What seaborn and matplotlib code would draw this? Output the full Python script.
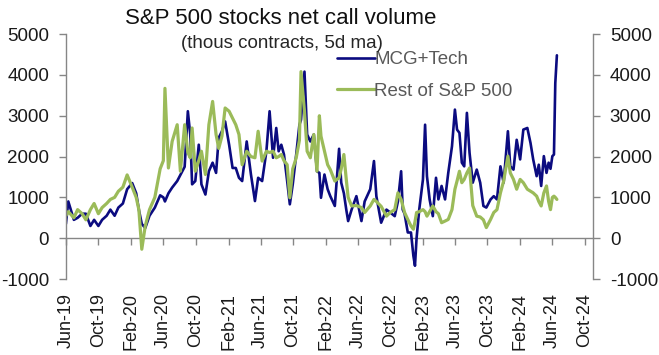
import matplotlib
matplotlib.use("Agg")
import matplotlib.pyplot as plt
import matplotlib.dates as mdates
import seaborn as sns
import pandas as pd

# Estilo base limpo; a fonte vem depois do set_theme
sns.set_theme(style="white")
plt.rcParams['font.family'] = ['Liberation Sans', 'DejaVu Sans']
plt.rcParams['axes.unicode_minus'] = False

# Valores (mil contratos, média 5d), por ano
datas_2019 = ["2019-06-01", "2019-06-10", "2019-07-01", "2019-07-15", "2019-08-01",
              "2019-08-15", "2019-09-01", "2019-09-15", "2019-10-01", "2019-10-15",
              "2019-11-01", "2019-11-15", "2019-12-01", "2019-12-15"]
mcg_2019 = [350, 900, 450, 500, 600,
            600, 300, 450, 300, 450,
            550, 700, 550, 750]
resto_2019 = [550, 650, 500, 700, 600,
              450, 700, 850, 600, 750,
              850, 950, 1000, 1150]

datas_2020 = ["2020-01-01", "2020-01-17", "2020-02-05", "2020-02-20", "2020-03-01",
              "2020-03-12", "2020-03-25", "2020-04-10", "2020-04-30", "2020-05-20",
              "2020-06-01", "2020-06-07", "2020-06-20", "2020-07-04", "2020-07-23",
              "2020-08-04", "2020-08-20", "2020-09-01", "2020-09-10", "2020-09-17",
              "2020-09-29", "2020-10-12", "2020-10-22", "2020-11-06", "2020-11-19",
              "2020-12-03", "2020-12-16", "2020-12-26"]
mcg_2020 = [850, 1200, 1350, 1100, 700,
            350, 250, 550, 750, 1050,
            1000, 900, 1100, 1240, 1400,
            1550, 1750, 3110, 2540, 1320,
            1400, 2290, 1320, 1070, 1640,
            1850, 1600, 2460]
resto_2020 = [1250, 1550, 1250, 1000, 700,
              -270, 300, 700, 1000, 1700,
              1900, 3670, 1720, 2370, 2780,
              1640, 2780, 2100, 1970, 2700,
              1640, 1900, 2130, 1560, 2780,
              3350, 2540, 2200]

datas_2021 = ["2021-01-07", "2021-01-19", "2021-02-03", "2021-02-16", "2021-02-28",
              "2021-03-12", "2021-03-24", "2021-04-10", "2021-04-26", "2021-05-11",
              "2021-05-23", "2021-06-07", "2021-06-23", "2021-07-05", "2021-07-18",
              "2021-07-30", "2021-08-08", "2021-08-18", "2021-08-28", "2021-09-09",
              "2021-09-19", "2021-09-30", "2021-10-13", "2021-10-25", "2021-10-31",
              "2021-11-13", "2021-11-23", "2021-12-05", "2021-12-18", "2021-12-30"]
mcg_2021 = [2620, 2860, 2290, 1720, 1720,
            1480, 1400, 2370, 1560, 910,
            1480, 1400, 2130, 3110, 1970,
            2700, 2130, 2290, 2050, 1400,
            830, 1320, 2050, 2780, 2900,
            4080, 2540, 2370, 2540, 1640]
resto_2021 = [2500, 3190, 3110, 2940, 2780,
              2540, 1800, 2130, 2000, 1970,
              2620, 1890, 2130, 2100, 2130,
              1970, 2000, 2050, 1900, 1800,
              990, 1700, 1970, 2400, 4080,
              3110, 2130, 1970, 2540, 1640]

datas_2022 = ["2022-01-08", "2022-01-14", "2022-01-27", "2022-02-08", "2022-02-18",
              "2022-03-07", "2022-03-23", "2022-03-31", "2022-04-10", "2022-04-19",
              "2022-04-26", "2022-05-09", "2022-05-27", "2022-06-15", "2022-06-27",
              "2022-07-18", "2022-08-01", "2022-08-10", "2022-08-28", "2022-09-17",
              "2022-10-01", "2022-10-18", "2022-10-30", "2022-11-11", "2022-11-17",
              "2022-11-24", "2022-12-06", "2022-12-18", "2022-12-27"]
mcg_2022 = [1600, 990, 1560, 1200, 1030,
            790, 2190, 1360, 1100, 700,
            420, 700, 1030, 420, 900,
            1200, 1890, 1030, 380, 700,
            630, 540, 900, 1640, 700,
            600, 140, 140, -430]
resto_2022 = [3000, 2500, 2130, 1800, 1680,
              1400, 1480, 1700, 2050, 1440,
              1000, 790, 800, 750, 630,
              790, 950, 900, 780, 540,
              630, 700, 1110, 950, 800,
              630, 460, 300, 220]

datas_2023 = ["2023-01-02", "2023-01-08", "2023-01-18", "2023-02-01", "2023-02-09",
              "2023-02-16", "2023-02-26", "2023-03-10", "2023-03-22", "2023-03-31",
              "2023-04-12", "2023-04-25", "2023-05-07", "2023-05-21", "2023-06-01",
              "2023-06-09", "2023-06-18", "2023-06-27", "2023-07-06", "2023-07-16",
              "2023-07-26", "2023-08-07", "2023-08-22", "2023-09-04", "2023-09-16",
              "2023-09-27", "2023-10-13", "2023-10-25", "2023-11-06", "2023-11-19",
              "2023-12-01", "2023-12-17", "2023-12-26"]
mcg_2023 = [-675, 0, 700, 1440, 2780,
            1520, 950, 540, 1480, 950,
            1280, 950, 1600, 2250, 3150,
            2660, 2580, 1850, 1760, 3070,
            2090, 1360, 1680, 1360, 790,
            750, 950, 1030, 950, 1760,
            1360, 2620, 1760]
resto_2023 = [400, 630, 650, 700, 650,
              540, 650, 790, 650, 600,
              380, 420, 460, 700, 1200,
              1400, 1640, 1360, 1440, 1600,
              1720, 800, 540, 520, 450,
              260, 460, 630, 700, 1110,
              1400, 2010, 1600]

datas_2024 = ["2024-01-07", "2024-01-19", "2024-02-01", "2024-02-13", "2024-02-28",
              "2024-03-11", "2024-03-21", "2024-04-03", "2024-04-11", "2024-04-20",
              "2024-04-30", "2024-05-10", "2024-05-18", "2024-05-25", "2024-06-01",
              "2024-06-07", "2024-06-12", "2024-06-18"]
mcg_2024 = [1680, 2410, 1930, 2660, 2700,
            2330, 1930, 1520, 1800, 1280,
            2010, 1600, 1850, 1700, 2010,
            2050, 3800, 4480]
resto_2024 = [1440, 1200, 1440, 1360, 1200,
              1150, 1110, 1030, 900, 790,
              1110, 1280, 900, 700, 1000,
              1030, 1000, 950]

datas = datas_2019 + datas_2020 + datas_2021 + datas_2022 + datas_2023 + datas_2024
mcg_tech = mcg_2019 + mcg_2020 + mcg_2021 + mcg_2022 + mcg_2023 + mcg_2024
resto_sp = resto_2019 + resto_2020 + resto_2021 + resto_2022 + resto_2023 + resto_2024

df = pd.DataFrame({"data": pd.to_datetime(datas), "mcg": mcg_tech, "resto": resto_sp})

cinza = '#868686'
azul = '#0b0b80'
verde = '#9bbb59'

fig = plt.figure(figsize=(6.59, 3.55), dpi=100)
ax = fig.add_axes([0.100, 0.214, 0.800, 0.690])

sns.lineplot(data=df, x="data", y="mcg", color=azul, linewidth=1.9, ax=ax, label="MCG+Tech")
sns.lineplot(data=df, x="data", y="resto", color=verde, linewidth=2.3, ax=ax, label="Rest of S&P 500")

ax.set_xlim(pd.Timestamp("2019-06-01"), pd.Timestamp("2024-11-01"))
ax.set_ylim(-1000, 5000)
ax.set_yticks(range(-1000, 5001, 1000))
ax.set_xlabel("")
ax.set_ylabel("")

# Eixos: só esquerda e direita, linha do zero com marcas
for lado in ['top', 'bottom']:
    ax.spines[lado].set_visible(False)
for lado in ['left', 'right']:
    ax.spines[lado].set_visible(True)
    ax.spines[lado].set_color(cinza)
    ax.spines[lado].set_linewidth(1.0)

ax.tick_params(axis='y', which='major', left=True, right=True, labelleft=True, labelright=True,
               direction='out', length=5, width=1, color=cinza, labelsize=13.5, pad=7,
               labelcolor='#1a1a1a')

meses = mdates.MonthLocator(bymonth=(2, 6, 10))
ax.xaxis.set_major_locator(meses)
ax.xaxis.set_major_formatter(mdates.DateFormatter('%b-%y'))
ax.tick_params(axis='x', bottom=True, length=0, labelsize=13, pad=10, labelrotation=90,
               labelcolor='#1a1a1a')

linha_zero = ax.secondary_xaxis(1 / 6)
linha_zero.xaxis.set_major_locator(mdates.MonthLocator(bymonth=(2, 6, 10)))
linha_zero.tick_params(axis='x', bottom=True, labelbottom=False, direction='out',
                       length=5, width=1, color=cinza)
linha_zero.spines['bottom'].set_color(cinza)
linha_zero.spines['bottom'].set_linewidth(1.0)

ax.legend(loc='upper left', bbox_to_anchor=(337 / 659, 1 - 51 / 355),
          bbox_transform=fig.transFigure, frameon=False, fontsize=13.5,
          labelcolor='#595959', borderpad=0, borderaxespad=0, handlelength=2.0,
          handletextpad=0.0, labelspacing=0.78)

fig.text(281 / 659, 1 - 18.5 / 355, "S&P 500 stocks net call volume", ha='center', va='center',
         fontsize=16, color='#111111')
fig.text(282 / 659, 1 - 43.5 / 355, "(thous contracts, 5d ma)", ha='center', va='center',
         fontsize=13.5, color='#262626')

fig.savefig('out.png', dpi=100)
